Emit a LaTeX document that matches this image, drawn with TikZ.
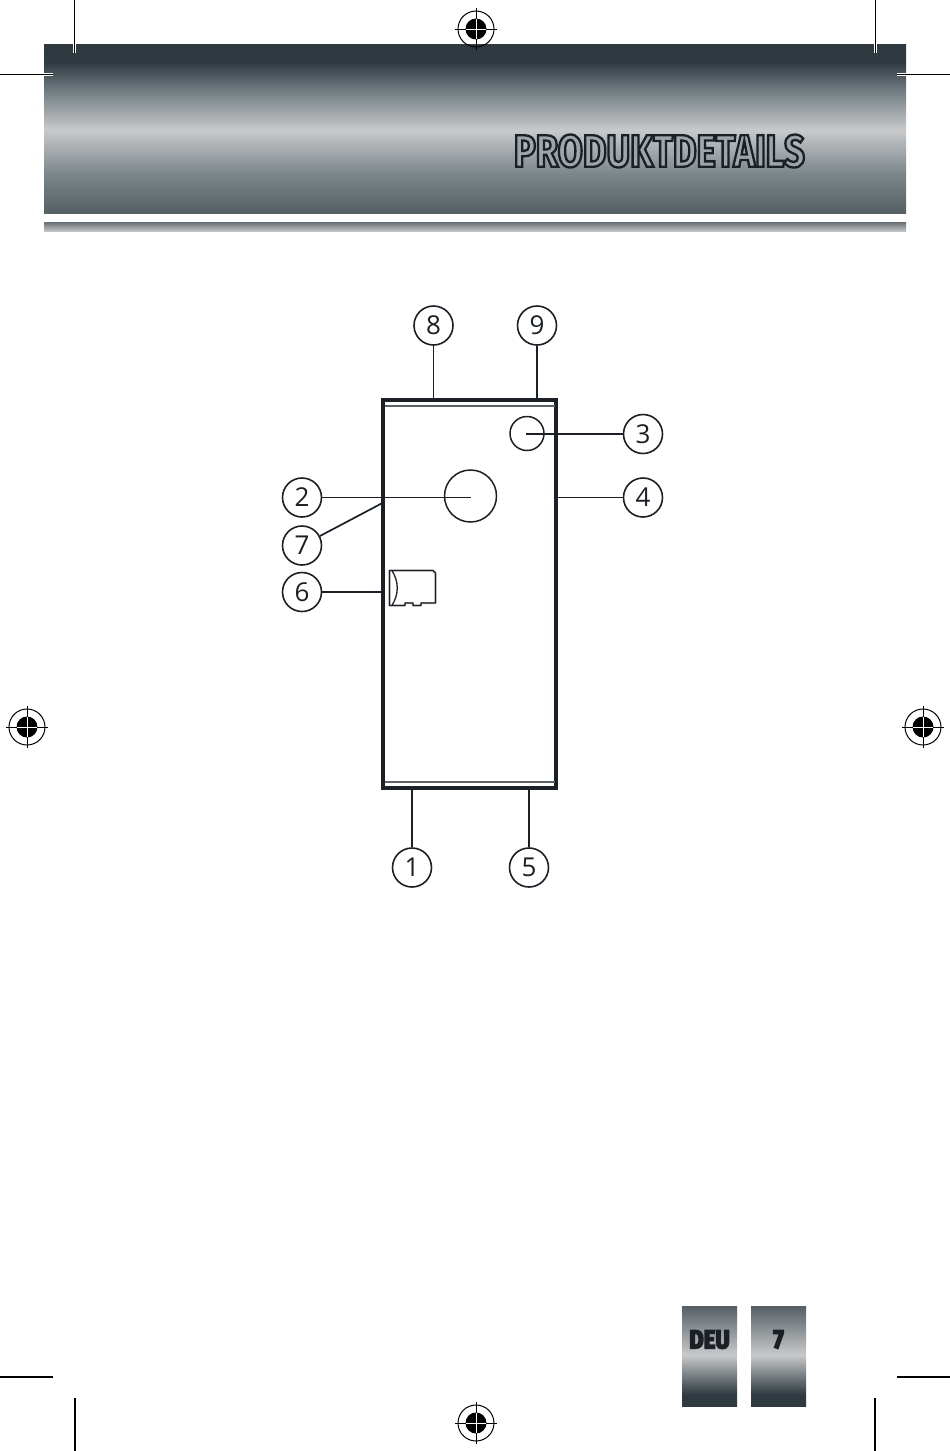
\documentclass[tikz,border=0pt]{standalone}
\usepackage{fontspec}
\setmainfont{Open Sans}
\newfontfamily\titlefont[FakeStretch=0.8]{Fira Sans Bold}
\newfontfamily\tabfont[FakeStretch=0.85,FakeBold=6]{Fira Sans Bold}

\definecolor{inkdark}{HTML}{1A2026}
\definecolor{steeldark}{HTML}{2F3A40}
\definecolor{steelmid}{HTML}{6F7B80}
\definecolor{steellow}{HTML}{7A858A}
\definecolor{steelend}{HTML}{555F64}
\definecolor{steellight}{HTML}{C8C9CB}

% Header band and page tabs
\pgfdeclareverticalshading{bandshade}{100bp}{color(0bp)=(steelend); color(25bp)=(steelend);
  color(36.5bp)=(steellow); color(49.7bp)=(steellight); color(61.5bp)=(steelmid);
  color(69.7bp)=(steeldark); color(100bp)=(steeldark)}
\pgfdeclareverticalshading{tabshade}{100bp}{color(0bp)=(steeldark); color(31bp)=(steeldark);
  color(50.7bp)=(steellight); color(75bp)=(steelend); color(100bp)=(steelend)}

% Outlined title lettering
\newcommand{\outlined}[1]{\special{pdf:code q 2 Tr 2.3 w 0.10 0.125 0.15 RG 0.62 0.65 0.67 rg}#1\special{pdf:code Q}}

\tikzset{
  callout/.style={circle,draw=inkdark,line width=1.6pt,minimum size=39pt,inner sep=0pt,font=\fontsize{26}{26}\selectfont,text=inkdark},
  leader/.style={draw=inkdark,line width=1.7pt},
  crop/.style={draw=black,line width=1.2pt},
}

\begin{document}
\begin{tikzpicture}[x=1pt,y=-1pt]

\useasboundingbox (0,0) rectangle (950,1451);

% Header
\fill[shading=bandshade] (44,44) rectangle (906,213.6);
\fill[top color=steelend!90!white,bottom color=steellight,shading angle=0] (44,222) rectangle (906,231.6);
\node[anchor=east,inner sep=0pt,font=\titlefont\fontsize{45.5}{45.5}\selectfont] (title) at (805,151) {\outlined{PRODUKTDETAILS}};

% Crop marks
\foreach \xa/\xb/\xc in {74.5/53/44,875.5/53/44}{
  \draw[white,line width=3pt] (\xa,\xc) -- (\xa,\xb);
  \draw[crop] (\xa,0) -- (\xa,\xb);
}
\draw[white,line width=3pt] (44,74.5) -- (53,74.5);
\draw[white,line width=3pt] (897,74.5) -- (906,74.5);
\draw[crop] (0,74.5) -- (53,74.5);
\draw[crop] (897,74.5) -- (950,74.5);
\draw[crop] (0,1377) -- (53,1377);
\draw[crop] (897,1377) -- (950,1377);
\draw[crop] (75,1398) -- (75,1451);
\draw[crop] (875,1398) -- (875,1451);

% Registration marks
\foreach \mx/\my in {476/29,476/1423,27/727,923/727}{
  \draw[line width=1pt] (\mx,\my) circle (18);
  \fill (\mx,\my) circle (10.5);
  \draw[line width=1pt] (\mx-21,\my) -- (\mx+21,\my);
  \draw[line width=1pt] (\mx,\my-21) -- (\mx,\my+21);
  \draw[white,line width=1pt] (\mx-10,\my) -- (\mx+10,\my);
  \draw[white,line width=1pt] (\mx,\my-10) -- (\mx,\my+10);
}

% Device body
\node[draw=inkdark,line width=4pt,minimum width=173.3pt,minimum height=388pt,inner sep=0pt] (body) at (469.7,594) {};
\draw[inkdark!70,line width=1.6pt] (385,406) -- (555,406);
\draw[inkdark!70,line width=1.6pt] (385,782) -- (555,782);

% Lens and sensor
\node[circle,draw=inkdark,line width=1.5pt,minimum size=52pt,inner sep=0pt] (lens) at (470.5,496) {};
\node[circle,draw=inkdark,line width=1.5pt,minimum size=34pt,inner sep=0pt] (sensor) at (527,433.5) {};

% Memory card
\draw[gray!50,line width=2.4pt,line join=round] (389.5,570.5) -- (433,570.5) -- (435.5,573) -- (435.5,603)
  -- (421,603) -- (421,605.5) -- (413,605.5) -- (413,603) -- (405,603) -- (405,605.5) -- (389.5,605.5) -- cycle;
\draw[inkdark,line width=1.3pt,line join=round] (389.5,570.5) -- (433,570.5) -- (435.5,573) -- (435.5,603)
  -- (421,603) -- (421,605.5) -- (413,605.5) -- (413,603) -- (405,603) -- (405,605.5) -- (389.5,605.5) -- cycle;
\draw[inkdark,line width=1.3pt] (392,570.5) .. controls (399,582) and (399,594) .. (392,605.5);

% Callouts
\node[callout] (n8) at (433.5,325.5) {8};
\node[callout] (n9) at (537,325.5) {9};
\node[callout] (n3) at (643,434) {3};
\node[callout] (n4) at (643,497.5) {4};
\node[callout] (n2) at (302,497.5) {2};
\node[callout] (n7) at (302,545.5) {7};
\node[callout] (n6) at (302,592) {6};
\node[callout] (n1) at (412,867.5) {1};
\node[callout] (n5) at (529,867.5) {5};

\coordinate (lenspin) at (471,497.5);
\coordinate (sensorpin) at (526,434);
\coordinate (sidepin) at (381.5,503.5);

% Leader lines
\draw[leader] (n8) -- (n8 |- body.north);
\draw[leader] (n9) -- (n9 |- body.north);
\draw[leader] (n3) -- (sensorpin);
\draw[leader] (n4) -- (n4 -| body.east);
\draw[leader] (n2) -- (lenspin);
\draw[leader] (n7) -- (sidepin);
\draw[leader] (n6) -- (n6 -| body.west);
\draw[leader] (n1) -- (n1 |- body.south);
\draw[leader] (n5) -- (n5 |- body.south);

% Page tabs
\fill[shading=tabshade] (682,1306) rectangle (737,1406.6);
\fill[shading=tabshade] (751,1306) rectangle (806,1406.6);
\node[inner sep=0pt,text=inkdark,font=\tabfont\fontsize{26}{26}\selectfont] (lang) at (709.5,1339.5) {DEU};
\node[inner sep=0pt,text=inkdark,font=\tabfont\fontsize{26}{26}\selectfont] (page) at (778.5,1339.5) {7};

\end{tikzpicture}
\end{document}
